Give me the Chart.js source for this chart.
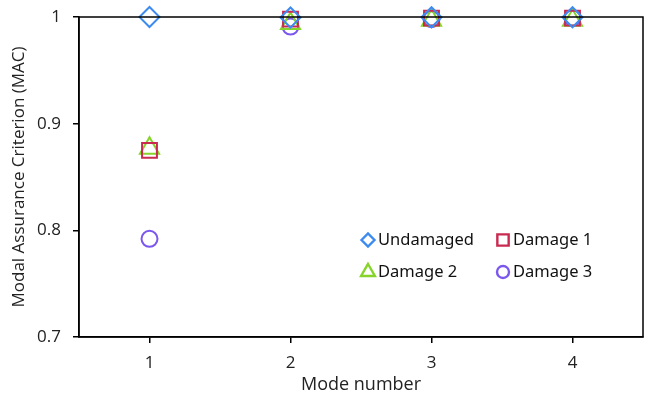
<!DOCTYPE html>
<html>
<head>
<meta charset="utf-8">
<script src="https://cdn.jsdelivr.net/npm/chart.js@4/dist/chart.umd.min.js"></script>
<style>
  html, body { margin: 0; padding: 0; background: #fff; overflow: hidden; }
</style>
</head>
<body>
<canvas id="macChart" width="649" height="394"></canvas>
<script>
// 모드 번호와 MAC 값
const modes = [1, 2, 3, 4];
const undamaged = [1.000, 0.9995, 0.9998, 0.9998];
const damage1 = [0.875, 0.998, 0.999, 0.999];
const damage2 = [0.877, 0.994, 0.997, 0.997];
const damage3 = [0.792, 0.991, 0.998, 0.999];
const yTicks = [0.7, 0.8, 0.9, 1];
const seriesNames = ['Undamaged', 'Damage 1', 'Damage 2', 'Damage 3'];

const FONT = 'Open Sans, Noto Sans, sans-serif';

function toPoints(vals) {
    return modes.map((m, i) => ({ x: m, y: vals[i] }));
}

// 축 박스 (위, 오른쪽 테두리)
const boxPlugin = {
    id: 'box',
    afterDraw(chart) {
        const { ctx, chartArea: a } = chart;
        ctx.save();
        ctx.strokeStyle = '#000';
        ctx.lineWidth = 1.5;
        ctx.strokeRect(a.left, a.top, a.right - a.left, a.bottom - a.top);
        ctx.restore();
    }
};

// 그래프 안쪽 범례
const legendPlugin = {
    id: 'innerLegend',
    afterDraw(chart) {
        const { ctx } = chart;
        const spots = [[368, 240], [503, 240], [368, 272], [503, 272]];
        ctx.save();
        ctx.font = '16.5px Noto Sans, sans-serif';
        ctx.textBaseline = 'middle';
        chart.data.datasets.forEach((ds, i) => {
            const [x, y] = spots[i];
            ctx.strokeStyle = ds.borderColor;
            ctx.fillStyle = 'rgba(0,0,0,0)';
            ctx.lineWidth = 2.4;
            Chart.helpers.drawPoint(ctx, {
                pointStyle: ds.pointStyle,
                radius: ds.legendRadius,
                borderWidth: 2.4
            }, x, y);
            ctx.fillStyle = '#111';
            ctx.fillText(ds.label, x + 10, y);
        });
        ctx.restore();
    }
};

const ctx = document.getElementById('macChart').getContext('2d');
new Chart(ctx, {
    type: 'scatter',
    data: {
        datasets: [
            { label: seriesNames[0], data: toPoints(undamaged), pointStyle: 'rectRot', pointRadius: 10, legendRadius: 6.5, borderColor: '#3d8bf0' },
            { label: seriesNames[1], data: toPoints(damage1), pointStyle: 'rect', pointRadius: 10.5, legendRadius: 8, borderColor: '#c92a50' },
            { label: seriesNames[2], data: toPoints(damage2), pointStyle: 'triangle', pointRadius: 11, legendRadius: 8, borderColor: '#86d42a' },
            { label: seriesNames[3], data: toPoints(damage3), pointStyle: 'circle', pointRadius: 8, legendRadius: 6, borderColor: '#7b57ee' }
        ].map(ds => Object.assign(ds, {
            backgroundColor: 'rgba(0,0,0,0)',
            borderWidth: 2,
            pointHoverRadius: ds.pointRadius,
            clip: false
        }))
    },
    options: {
        responsive: false,
        animation: false,
        layout: { autoPadding: false, padding: { top: 17, right: 6, left: 0, bottom: 0 } },
        plugins: {
            legend: { display: false },
            tooltip: { enabled: false }
        },
        scales: {
            x: {
                type: 'linear',
                min: 0.5,
                max: 4.5,
                afterBuildTicks: scale => { scale.ticks = modes.map(v => ({ value: v })); },
                afterFit: scale => { scale.height = 57; scale.paddingLeft = 0; scale.paddingRight = 0; },
                grid: { drawOnChartArea: false, drawTicks: true, tickLength: 6, color: '#000', lineWidth: 1.5 },
                border: { display: true, color: '#000', width: 1.5 },
                ticks: { color: '#222', padding: 10, font: { family: FONT, size: 17 } },
                title: { display: true, text: 'Mode number', color: '#222', padding: { top: 0, bottom: -2 }, font: { family: FONT, size: 18 } }
            },
            y: {
                min: 0.7,
                max: 1,
                afterBuildTicks: scale => { scale.ticks = yTicks.map(v => ({ value: v })); },
                afterFit: scale => { scale.width = 79; scale.paddingTop = 0; scale.paddingBottom = 0; },
                grid: { drawOnChartArea: false, drawTicks: true, tickLength: 6, color: '#000', lineWidth: 1.5 },
                border: { display: true, color: '#000', width: 1.5 },
                ticks: {
                    color: '#222', padding: 12, font: { family: FONT, size: 17 },
                    callback: v => String(Math.round(v * 10) / 10)
                },
                title: { display: true, text: 'Modal Assurance Criterion (MAC)', color: '#222', padding: { top: 9, bottom: 0 }, font: { family: FONT, size: 17 } }
            }
        }
    },
    plugins: [boxPlugin, legendPlugin]
});
</script>
</body>
</html>
